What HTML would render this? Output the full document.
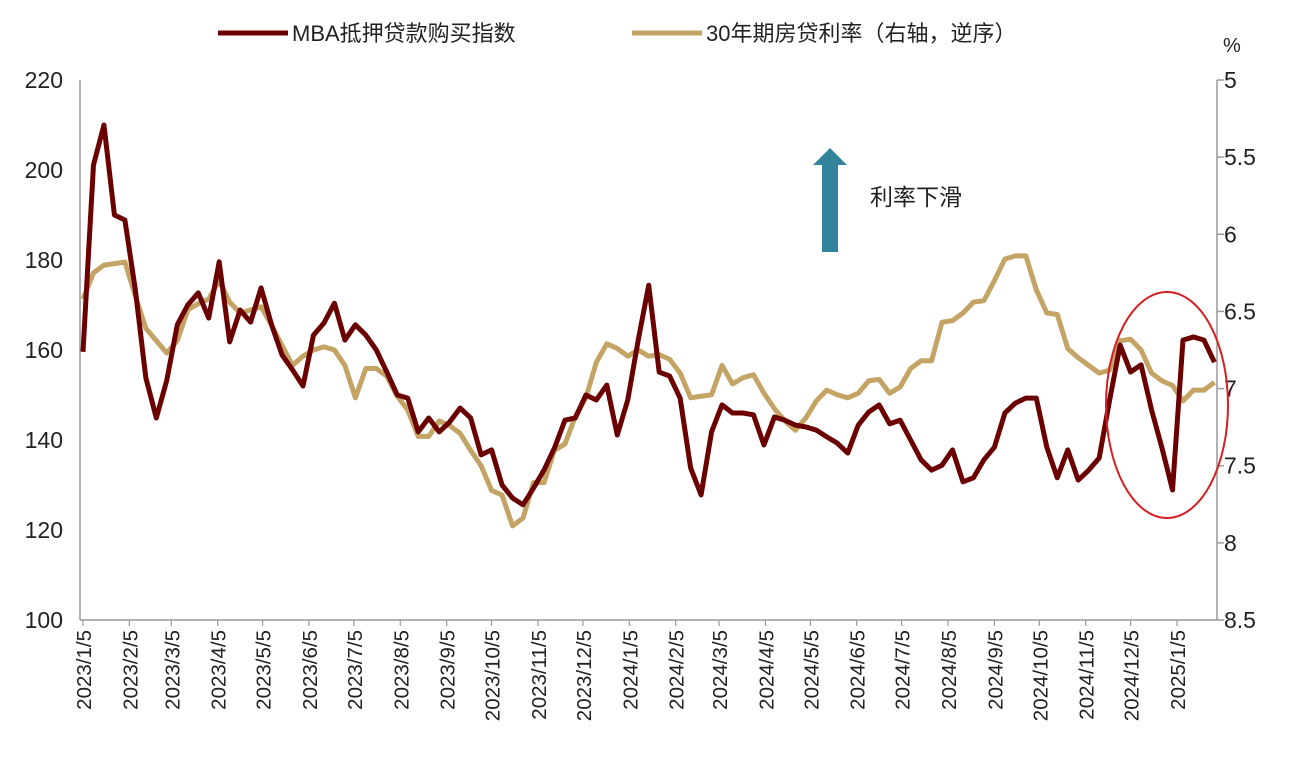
<!DOCTYPE html>
<html><head><meta charset="utf-8"><style>
body{margin:0;background:#fff;}
svg{display:block;font-family:"Liberation Sans","Noto Sans CJK SC",sans-serif;}
</style></head><body>
<svg id="chart" width="1305" height="768">
<g>
<line x1="218" y1="33" x2="288" y2="33" stroke="#6b0000" stroke-width="5"/>
<text x="292" y="41" font-size="22" fill="#222">MBA抵押贷款购买指数</text>
<line x1="632" y1="33" x2="702" y2="33" stroke="#c4a464" stroke-width="5"/>
<text x="706" y="41" font-size="22" fill="#222">30年期房贷利率（右轴，逆序）</text>
</g>
<text x="1223" y="52" font-size="20" fill="#222">%</text>
<line x1="80" y1="80" x2="80" y2="620" stroke="#999" stroke-width="1.5"/>
<line x1="1217" y1="80" x2="1217" y2="620" stroke="#999" stroke-width="1.5"/>
<line x1="80" y1="620" x2="1217" y2="620" stroke="#999" stroke-width="1.5"/>
<g id="ticks"></g>
<g id="series"></g>
<g>
<polygon points="822,252 838,252 838,165 847,165 830,148 813,165 822,165" fill="#31849b"/>
<text x="870" y="205" font-size="23" fill="#222">利率下滑</text>
</g>
<ellipse cx="1167" cy="405" rx="61" ry="113" fill="none" stroke="#d42020" stroke-width="2"/>
</svg>
<script>
const mbaValues=[159.6,201.1,210,190,188.9,173.3,153.8,144.9,153.3,165.6,170,172.7,167.1,179.6,161.8,168.9,166.2,173.8,165.6,158.9,155.6,152,163.3,166,170.4,162.2,165.6,163.3,160,155.1,150,149.3,141.8,144.9,141.8,144,147.1,144.9,136.7,137.8,130,127.1,125.6,129.3,133.3,138.2,144.4,144.9,150,148.9,152.2,141.1,148.9,162.2,174.4,155.1,154.2,149.3,133.8,127.8,141.8,147.8,146,146,145.6,138.9,145.1,144.4,143.3,142.9,142.2,140.7,139.3,137.1,143.3,146.2,147.8,143.6,144.4,140,135.6,133.3,134.4,137.8,130.7,131.6,135.6,138.4,146,148.2,149.3,149.3,138.4,131.6,137.8,131.1,133.3,136,148.9,161.1,155.1,156.7,146.7,138.2,128.9,162.2,162.9,162.2,157.3];
const rateValues=[6.42,6.25,6.20,6.19,6.18,6.40,6.61,6.69,6.77,6.69,6.49,6.45,6.42,6.30,6.44,6.51,6.49,6.47,6.59,6.72,6.85,6.79,6.75,6.73,6.75,6.85,7.06,6.87,6.87,6.92,7.05,7.14,7.31,7.31,7.21,7.24,7.29,7.40,7.50,7.66,7.69,7.89,7.84,7.61,7.61,7.40,7.36,7.18,7.06,6.83,6.71,6.74,6.79,6.75,6.79,6.78,6.81,6.90,7.06,7.05,7.04,6.85,6.97,6.93,6.91,7.03,7.13,7.21,7.27,7.19,7.08,7.01,7.04,7.06,7.03,6.95,6.94,7.03,6.99,6.87,6.82,6.82,6.57,6.56,6.51,6.44,6.43,6.30,6.16,6.14,6.14,6.36,6.51,6.52,6.74,6.80,6.85,6.90,6.88,6.69,6.68,6.75,6.90,6.95,6.98,7.08,7.01,7.01,6.96];
const leftTicks=[100,120,140,160,180,200,220];
const rightTicks=[5,5.5,6,6.5,7,7.5,8,8.5];
const monthLabels=["2023/1/5","2023/2/5","2023/3/5","2023/4/5","2023/5/5","2023/6/5","2023/7/5","2023/8/5","2023/9/5","2023/10/5","2023/11/5","2023/12/5","2024/1/5","2024/2/5","2024/3/5","2024/4/5","2024/5/5","2024/6/5","2024/7/5","2024/8/5","2024/9/5","2024/10/5","2024/11/5","2024/12/5","2025/1/5"];
const NS="http://www.w3.org/2000/svg";
const t0=Date.UTC(2023,0,5), pxPerDay=(1177-83)/731;
function xDate(ms){return 83+(ms-t0)/86400000*pxPerDay;}
function xWeek(i){return 83+i*7*pxPerDay;}
function yLeft(v){return 620-(v-100)/120*540;}
function yRight(r){return 80+(r-5)/3.5*540;}
function mk(tag,attrs,parent){const e=document.createElementNS(NS,tag);for(const k in attrs)e.setAttribute(k,attrs[k]);parent.appendChild(e);return e;}
const tg=document.getElementById('ticks');
leftTicks.forEach(v=>{
  const t=mk('text',{x:63,y:yLeft(v)+8,'text-anchor':'end','font-size':23,fill:'#222'},tg);
  t.textContent=v;
  
  
});
rightTicks.forEach(r=>{
  const l=mk('line',{x1:1217,x2:1224,y1:yRight(r),y2:yRight(r),stroke:'#999','stroke-width':1.5},tg);
  
  
  const t=mk('text',{x:1224,y:yRight(r)+8,'font-size':23,fill:'#222'},tg);
  t.textContent=r;
  
  
});
monthLabels.forEach(s=>{
  const p=s.split('/');const x=xDate(Date.UTC(+p[0],+p[1]-1,+p[2]));
  const l=mk('line',{x1:x,x2:x,y1:620,y2:626,stroke:'#999','stroke-width':1.2},tg);
  
  
  const t=mk('text',{x:0,y:0,'text-anchor':'end','font-size':20.5,fill:'#222',transform:`translate(${x+8},630) rotate(-90)`},tg);
  t.textContent=s;
  
  
});
const sg=document.getElementById('series');
const rp=mk('polyline',{points:rateValues.map((r,i)=>xWeek(i)+','+yRight(r)).join(' '),fill:'none',stroke:'#c4a464','stroke-width':5,'stroke-linejoin':'round'},sg);


const mp=mk('polyline',{points:mbaValues.map((v,i)=>xWeek(i)+','+yLeft(v)).join(' '),fill:'none',stroke:'#6b0000','stroke-width':5,'stroke-linejoin':'round'},sg);


</script>
</body></html>
